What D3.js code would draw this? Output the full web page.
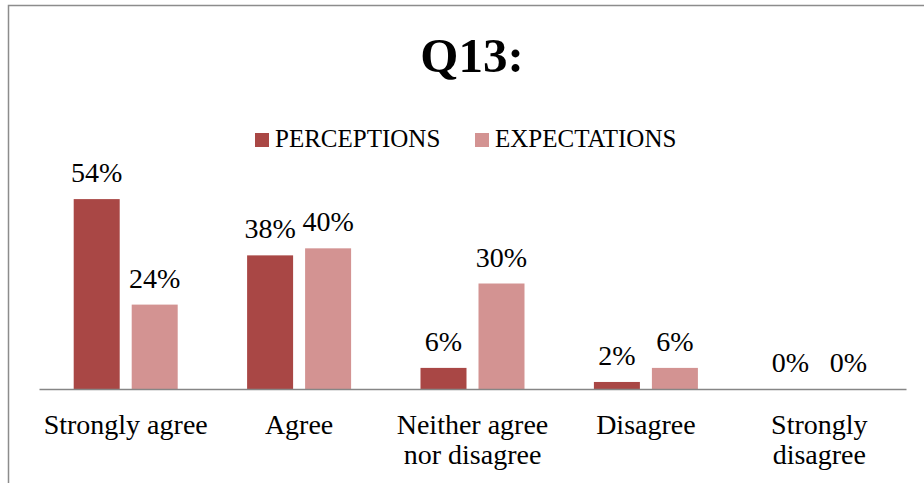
<!DOCTYPE html>
<html>
<head>
<meta charset="utf-8">
<script src="https://cdn.jsdelivr.net/npm/d3@7"></script>
<style>
  body { margin: 0; background: #fff; }
  svg { display: block; }
</style>
</head>
<body>
<svg width="924" height="483"></svg>
<script>
// chart data
var categories = ['Strongly agree', 'Agree', 'Neither agree nor disagree', 'Disagree', 'Strongly disagree'];
var tickLines = [['Strongly agree'], ['Agree'], ['Neither agree', 'nor disagree'], ['Disagree'], ['Strongly', 'disagree']];
var seriesNames = ['PERCEPTIONS', 'EXPECTATIONS'];
var perceptions = [54, 38, 6, 2, 0];
var expectations = [24, 40, 30, 6, 0];
var colors = ['#a94745', '#d39392'];

var FONT = "'Liberation Serif', serif";

var svg = d3.select('svg');

// outer border (runs off right/bottom edges like the original)
svg.append('rect')
  .attr('x', 8.5).attr('y', 5.5)
  .attr('width', 940).attr('height', 500)
  .attr('fill', '#fff')
  .attr('stroke', '#8c8c8c')
  .attr('stroke-width', 1.5);

// title
svg.append('text')
  .attr('x', 472).attr('y', 72)
  .attr('text-anchor', 'middle')
  .style('font-family', FONT)
  .style('font-weight', 'bold')
  .style('font-size', '49px')
  .text('Q13:');

var padding = { left: 39, right: 906, top: 178, bottom: 389 };

var x0 = d3.scaleBand()
  .domain(categories)
  .range([padding.left, padding.right]);

var x1 = d3.scaleBand()
  .domain(seriesNames)
  .range([x0.bandwidth() / 2 - 52, x0.bandwidth() / 2 + 52])
  .paddingInner(0.2069);

var y = d3.scaleLinear()
  .domain([0, 60])
  .range([padding.bottom, padding.top]);

var data = categories.map(function (c, i) {
  return { cat: c, values: [perceptions[i], expectations[i]] };
});

// bars
var groups = svg.append('g')
  .selectAll('g')
  .data(data)
  .enter()
  .append('g')
  .attr('transform', function (d) { return 'translate(' + x0(d.cat) + ',0)'; });

groups.selectAll('rect')
  .data(function (d) { return d.values.map(function (v, j) { return { s: seriesNames[j], v: v, j: j }; }); })
  .enter()
  .append('rect')
  .attr('x', function (d) { return x1(d.s); })
  .attr('y', function (d) { return y(d.v); })
  .attr('width', x1.bandwidth())
  .attr('height', function (d) { return y(0) - y(d.v); })
  .attr('fill', function (d) { return colors[d.j]; });

// value labels
groups.selectAll('text')
  .data(function (d) { return d.values.map(function (v, j) { return { s: seriesNames[j], v: v }; }); })
  .enter()
  .append('text')
  .attr('x', function (d) { return x1(d.s) + x1.bandwidth() / 2; })
  .attr('y', function (d) { return y(d.v) - 17; })
  .attr('text-anchor', 'middle')
  .style('font-family', FONT)
  .style('font-size', '28px')
  .attr('fill', '#000')
  .text(function (d) { return d.v + '%'; });

// x axis
var xAxis = svg.append('g')
  .attr('transform', 'translate(0,' + padding.bottom + ')')
  .call(d3.axisBottom(x0).tickSize(0).tickPadding(0));

xAxis.select('.domain')
  .attr('stroke', '#868686')
  .attr('stroke-width', 1.5);

xAxis.selectAll('.tick text')
  .style('font-family', FONT)
  .style('font-size', '28px')
  .attr('fill', '#000')
  .attr('dy', null)
  .attr('y', 0)
  .text(null)
  .each(function (d, i) {
    var t = d3.select(this);
    tickLines[i].forEach(function (line, k) {
      t.append('tspan')
        .attr('x', 0)
        .attr('y', 45 + k * 30)
        .text(line);
    });
  });

// legend
var legendX = [255, 475];
var legend = svg.append('g');
seriesNames.forEach(function (name, i) {
  legend.append('rect')
    .attr('x', legendX[i]).attr('y', 133)
    .attr('width', 14).attr('height', 14)
    .attr('fill', colors[i]);
  legend.append('text')
    .attr('x', legendX[i] + 20).attr('y', 147)
    .style('font-family', FONT)
    .style('font-size', '25px')
    .text(name);
});
</script>
</body>
</html>
